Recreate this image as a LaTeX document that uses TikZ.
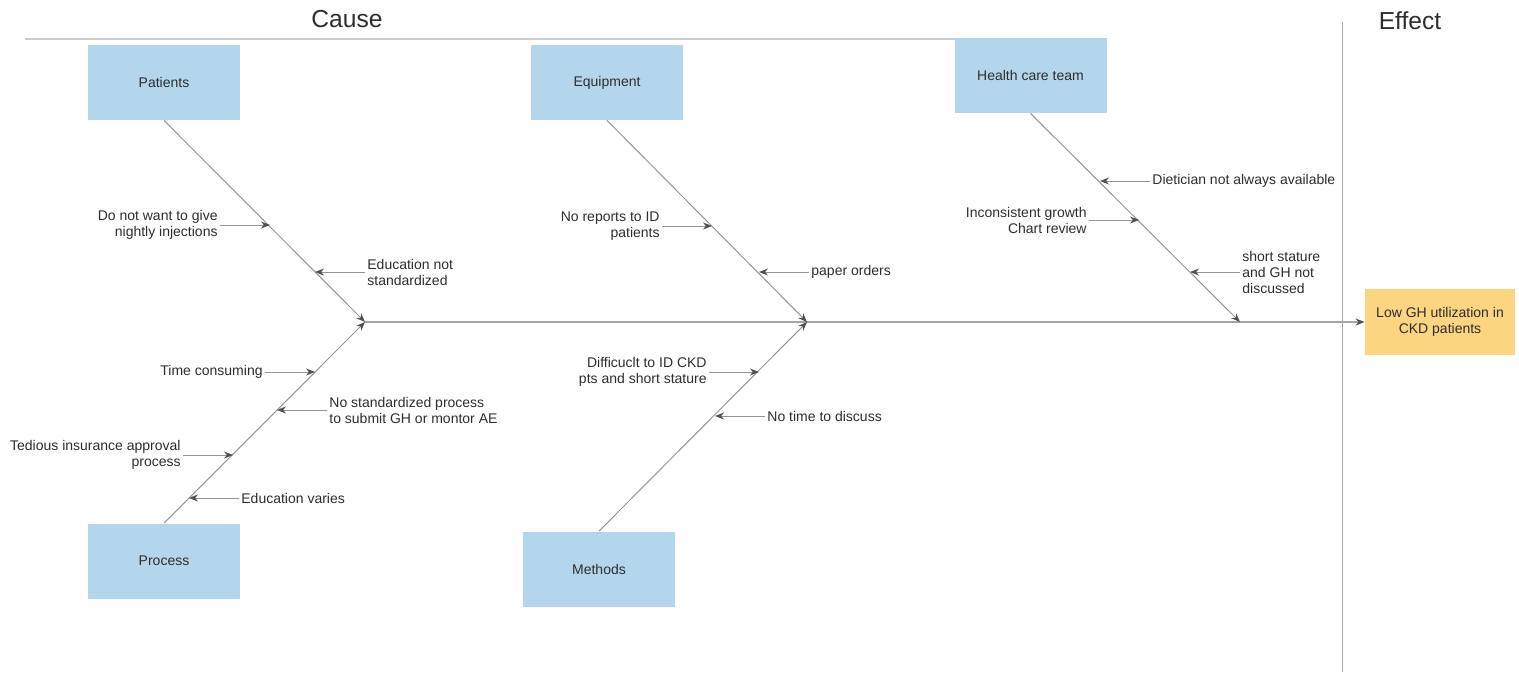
\documentclass[tikz,border=0pt]{standalone}
\usepackage{fontspec}
\setmainfont{Liberation Sans}
\usetikzlibrary{positioning,arrows.meta}
\definecolor{boxblue}{RGB}{179,214,236}
\definecolor{boxorange}{RGB}{251,213,128}
\definecolor{linegray}{RGB}{150,150,150}
\definecolor{spinegray}{RGB}{165,165,165}
\definecolor{rulegray}{RGB}{205,205,205}
\definecolor{tipgray}{RGB}{80,80,80}
\definecolor{txtgray}{RGB}{45,45,45}
\tikzset{
  cat/.style={fill=boxblue,minimum width=76pt,minimum height=37.5pt,inner sep=0pt,font=\fontsize{7}{8}\selectfont,text=txtgray},
  lbl/.style={font=\fontsize{7}{8}\selectfont,text=txtgray,inner sep=1pt},
  title/.style={font=\fontsize{12.3}{14}\selectfont,text=txtgray},
  bone/.style={draw=linegray,line width=0.5pt,-{Stealth[length=4.5pt,width=3.5pt,color=tipgray]}},
  spine/.style={draw=spinegray,line width=0.75pt,-{Stealth[length=4.5pt,width=3.5pt,color=tipgray]}},
  sub/.style={draw=linegray,line width=0.5pt,-{Stealth[length=4.5pt,width=3.5pt,color=tipgray]}}
}
\begin{document}
\begin{tikzpicture}[x=0.5pt,y=-0.5pt]
\useasboundingbox (0,0) rectangle (1519,677);
\coordinate (rl) at (25,39);
\coordinate (rr) at (984,39);
\draw[draw=rulegray,line width=0.6pt] (rl) -- (rr);
\coordinate (vt) at (1342,22);
\coordinate (vb) at (1342,672);
\draw[draw=spinegray,line width=0.5pt] (vt) -- (vb);
\node[title] (cause) at (347,19) {Cause};
\node[title] (effect) at (1410,21) {Effect};

\node[cat] (pat) at (164,82.5) {Patients};
\node[cat] (equ) at (607,82.5) {Equipment};
\node[cat] (hct) at (1030.5,75.5) {Health care team};
\node[cat] (pro) at (164,561) {Process};
\node[cat] (met) at (599,569) {Methods};
\node[cat,fill=boxorange,minimum width=75pt,minimum height=33pt,align=center] (eff) at (1440,322) {Low GH utilization in\\CKD patients};

\coordinate (j1) at (365,322);
\coordinate (j2) at (807,322);
\coordinate (j3) at (1240,322);
\path (j1) edge[spine] (eff);
\path (pat.south) edge[bone] (j1);
\path (pro.north) edge[bone] (j1);
\path (equ.south) edge[bone] (j2);
\path (met.north) edge[bone] (j2);
\path (hct.south) edge[bone] (j3);

\coordinate (p1) at (270,225);
\coordinate (p2) at (315,272);
\coordinate (p3) at (315,372);
\coordinate (p4) at (277,410);
\coordinate (p5) at (233,455);
\coordinate (p6) at (189,498);
\coordinate (e1) at (712,226);
\coordinate (e2) at (759,272);
\coordinate (m1) at (759,372);
\coordinate (m2) at (715,416);
\coordinate (h1) at (1100,181);
\coordinate (h2) at (1139,220);
\coordinate (h3) at (1190,272);

\node[lbl,align=right,left=25pt of p1] (tp1) {Do not want to give\\nightly injections};
\node[lbl,align=left,right=25pt of p2] (tp2) {Education not\\standardized};
\node[lbl,left=25pt of p3] (tp3) {Time consuming};
\node[lbl,align=left,right=25pt of p4] (tp4) {No standardized process\\to submit GH or montor AE};
\node[lbl,align=right,left=25pt of p5] (tp5) {Tedious insurance approval\\process};
\node[lbl,right=25pt of p6] (tp6) {Education varies};
\node[lbl,align=right,left=25pt of e1] (te1) {No reports to ID\\patients};
\node[lbl,right=25pt of e2] (te2) {paper orders};
\node[lbl,align=right,left=25pt of m1] (tm1) {Difficuclt to ID CKD\\pts and short stature};
\node[lbl,right=25pt of m2] (tm2) {No time to discuss};
\node[lbl,right=25pt of h1] (th1) {Dietician not always available};
\node[lbl,align=right,left=25pt of h2] (th2) {Inconsistent growth\\Chart review};
\node[lbl,align=left,right=25pt of h3] (th3) {short stature\\and GH not\\discussed};

\path (tp1) edge[sub] (p1);
\path (tp2) edge[sub] (p2);
\path (tp3) edge[sub] (p3);
\path (tp4) edge[sub] (p4);
\path (tp5) edge[sub] (p5);
\path (tp6) edge[sub] (p6);
\path (te1) edge[sub] (e1);
\path (te2) edge[sub] (e2);
\path (tm1) edge[sub] (m1);
\path (tm2) edge[sub] (m2);
\path (th1) edge[sub] (h1);
\path (th2) edge[sub] (h2);
\path (th3) edge[sub] (h3);
\end{tikzpicture}
\end{document}
